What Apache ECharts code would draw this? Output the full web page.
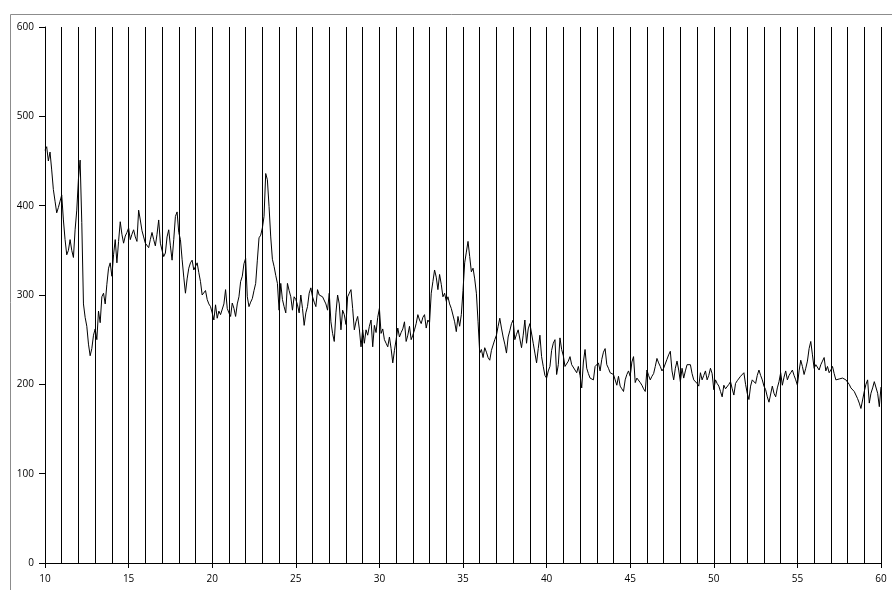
<!DOCTYPE html>
<html>
<head>
<meta charset="utf-8">
<script src="https://cdn.jsdelivr.net/npm/echarts@6/dist/echarts.min.js"></script>
<style>html,body{margin:0;padding:0;background:#fff;}#c{width:892px;height:590px;}</style>
</head>
<body>
<div id="c"></div>
<script>
// 2-theta start and step
var xStart = 10.0;
var xStep = 0.1;
// intensities sampled every 0.1 from 10.0 to 60.0
var intensity = [
462,466,450,460,440,418,405,392,398,405,
412,384,362,345,350,362,350,342,373,395,
430,451,381,290,275,265,245,232,240,255,
262,250,282,269,298,302,290,312,330,336,
321,345,362,336,360,382,368,358,366,370,
375,362,368,373,365,360,395,384,372,365,
358,360,353,362,370,362,355,368,384,358,
350,343,347,365,373,355,339,362,388,393,
370,362,340,320,302,318,330,336,339,328,
332,336,325,315,300,298,305,295,290,287,
280,272,289,274,282,278,276,290,306,285,
280,276,291,285,276,290,298,315,321,335,
341,298,287,292,296,305,313,339,364,367,
375,388,436,429,399,365,340,332,322,313,
283,313,295,287,280,313,305,298,283,298,
295,289,280,300,285,266,280,287,302,308,
298,292,287,306,300,302,298,296,290,283,
302,270,257,248,280,300,290,261,283,278,
267,298,302,306,285,261,270,276,262,242,
261,246,261,255,265,272,242,266,258,275,
285,257,262,250,246,242,253,240,224,238,
250,263,253,258,262,270,248,255,265,250,
255,261,268,278,272,268,275,278,263,272,
269,302,315,328,320,306,323,312,298,302,
293,298,290,285,283,270,259,276,265,278,
305,336,348,360,343,326,330,318,302,270,
235,239,230,241,236,230,227,238,244,250,
255,265,274,263,253,245,235,253,260,268,
272,250,256,261,259,241,255,272,246,262,
268,270,246,235,224,240,255,231,220,210,
207,215,220,238,246,250,211,222,252,239,
232,220,222,226,231,222,220,216,213,220,
210,196,225,239,218,212,207,206,205,220,
218,224,215,228,236,240,222,218,213,212,
211,205,199,209,198,195,192,205,211,215,
209,225,231,202,207,205,202,199,195,192,
216,210,205,209,212,220,229,224,220,215,
218,220,228,233,237,215,205,218,226,216,
203,218,207,215,222,224,222,212,205,203,
201,198,213,205,210,215,205,210,218,212,
194,205,201,198,192,186,199,195,196,200,
203,195,188,201,204,205,209,211,213,200,
190,183,198,205,203,201,210,216,210,205,
198,194,186,180,179,198,190,186,196,203,
213,199,208,215,205,210,213,216,210,205,
199,215,227,220,211,218,226,240,248,233,
218,222,220,216,222,226,230,215,220,213,
216,220,212,205,207,206,205,207,209,205,
203,200,196,194,192,190,184,179,173,175,
192,200,205,179,190,196,203,205,190,175,
197
];
var xTickMin = 10, xTickMax = 60, xTickInterval = 5;
var yTickMin = 0, yTickMax = 600, yTickInterval = 100;

var pts = intensity.map(function (v, i) {
  return [Math.round((xStart + i * xStep) * 10) / 10, v];
});

var chart = echarts.init(document.getElementById('c'), null, {renderer: 'canvas'});
var labelFont = {fontFamily: 'Open Sans, Noto Sans, sans-serif', fontSize: 10, color: '#000'};
chart.setOption({
  animation: false,
  backgroundColor: '#fff',
  grid: {left: 45, right: 11, top: 27, bottom: 27, containLabel: false},
  graphic: [{
    type: 'rect', left: 8, top: 12, silent: true,
    shape: {width: 900, height: 600},
    style: {fill: 'none', stroke: '#8c8c8c', lineWidth: 1}
  }],
  xAxis: {
    type: 'value', min: xTickMin, max: xTickMax, interval: xTickInterval,
    axisLine: {show: true, lineStyle: {color: '#000', width: 1}},
    axisTick: {show: true, length: 5, lineStyle: {color: '#000'}},
    axisLabel: Object.assign({margin: 11}, labelFont),
    splitLine: {show: true, lineStyle: {color: '#000', width: 1}},
    minorTick: {show: false, splitNumber: 5},
    minorSplitLine: {show: true, lineStyle: {color: '#000', width: 1}}
  },
  yAxis: {
    type: 'value', min: yTickMin, max: yTickMax, interval: yTickInterval,
    axisLine: {show: true, lineStyle: {color: '#000', width: 1}},
    axisTick: {show: true, length: 6, lineStyle: {color: '#000'}},
    axisLabel: Object.assign({margin: 11}, labelFont),
    splitLine: {show: false}
  },
  series: [{
    type: 'line', data: pts, showSymbol: false, symbol: 'none',
    lineStyle: {color: '#000', width: 1}, z: 5
  }]
});
</script>
</body>
</html>
